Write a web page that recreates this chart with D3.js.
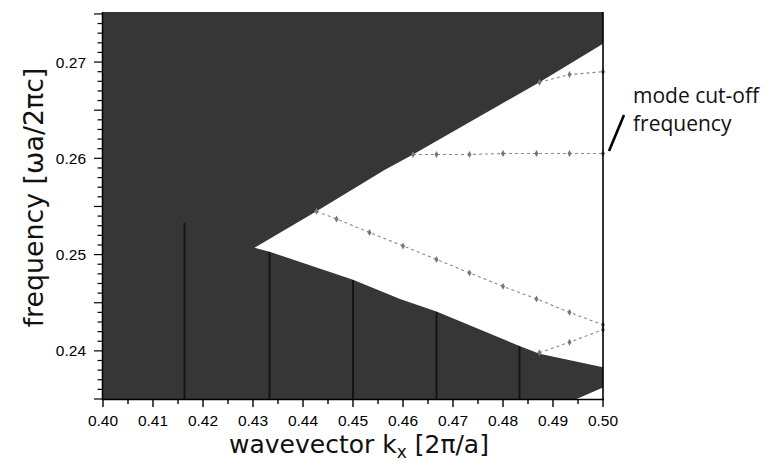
<!DOCTYPE html>
<html>
<head>
<meta charset="utf-8">
<script src="https://cdn.jsdelivr.net/npm/d3@7/dist/d3.min.js"></script>
<style>
  html, body { margin: 0; padding: 0; background: #fff; }
  svg { display: block; }
</style>
</head>
<body>
<svg id="chart" width="776" height="474"></svg>
<script>
// ---- data ----
const xDomain = [0.40, 0.50];
const yDomain = [0.235, 0.2752];
const xTickLabels = ["0.40","0.41","0.42","0.43","0.44","0.45","0.46","0.47","0.48","0.49","0.50"];
const yTickLabels = ["0.24","0.25","0.26","0.27"];

// edges of the (white) band-gap wedge
const upperEdgeK = [0.4303, 0.4427, 0.4563, 0.462, 0.4873, 0.5];
const upperEdgeF = [0.2507, 0.2545, 0.2588, 0.2604, 0.2679, 0.2719];
const lowerEdgeK = [0.4303, 0.4333, 0.45, 0.4594, 0.4667, 0.4833, 0.4873, 0.5];
const lowerEdgeF = [0.2507, 0.2503, 0.2474, 0.2454, 0.2441, 0.2405, 0.2397, 0.2383];
// small white corner at the bottom right
const cornerK = [0.4947, 0.5, 0.5];
const cornerF = [0.235, 0.2362, 0.235];

// defect modes (dotted lines)
const modeAK = [0.4427, 0.4467, 0.4533, 0.46, 0.4667, 0.4733, 0.48, 0.4867, 0.4933, 0.5];
const modeAF = [0.2545, 0.2537, 0.2523, 0.2509, 0.2495, 0.2481, 0.2467, 0.2454, 0.2440, 0.2427];
const modeBK = [0.462, 0.4667, 0.4733, 0.48, 0.4867, 0.4933, 0.5];
const modeBF = [0.2604, 0.2604, 0.2604, 0.2605, 0.2605, 0.2605, 0.2605];
const modeCK = [0.4873, 0.4933, 0.5];
const modeCF = [0.2679, 0.2687, 0.2690];
const modeDK = [0.4873, 0.4933, 0.5];
const modeDF = [0.2398, 0.2409, 0.2422];

// dark vertical streaks in the projected band region
const streakK   = [0.4163, 0.4333, 0.45, 0.4667, 0.4833];
const streakTop = [0.2533, 0.2503, 0.2474, 0.2441, 0.2405];

// ---- drawing ----
const svg = d3.select("#chart");
const x = d3.scaleLinear().domain(xDomain).range([103, 603]);
const y = d3.scaleLinear().domain(yDomain).range([399, 12]);

const zip = (ks, fs) => ks.map((k, i) => [k, fs[i]]);
const line = d3.line().x(d => x(d[0])).y(d => y(d[1]));

// dark projected-band area
svg.append("rect")
  .attr("x", x(xDomain[0])).attr("y", y(yDomain[1]))
  .attr("width", x(xDomain[1]) - x(xDomain[0]))
  .attr("height", y(yDomain[0]) - y(yDomain[1]))
  .attr("fill", "#363636");

// streaks
svg.append("g").selectAll("line").data(streakK).join("line")
  .attr("x1", d => x(d)).attr("x2", d => x(d))
  .attr("y1", (d, i) => y(streakTop[i])).attr("y2", y(yDomain[0]))
  .attr("stroke", "#141414").attr("stroke-width", 2);

// white wedge
const wedge = zip(upperEdgeK, upperEdgeF).concat(zip(lowerEdgeK, lowerEdgeF).reverse());
svg.append("path").attr("d", line(wedge) + "Z").attr("fill", "#fff");
svg.append("path").attr("d", line(zip(cornerK, cornerF)) + "Z").attr("fill", "#fff");

// modes
const modes = [zip(modeAK, modeAF), zip(modeBK, modeBF), zip(modeCK, modeCF), zip(modeDK, modeDF)];
const gm = svg.append("g");
modes.forEach(m => {
  gm.append("path").attr("d", line(m)).attr("fill", "none")
    .attr("stroke", "#8a8a8a").attr("stroke-width", 1.1).attr("stroke-dasharray", "3,3");
  gm.selectAll(null).data(m).join("path")
    .attr("transform", d => `translate(${x(d[0])},${y(d[1])})`)
    .attr("d", d3.symbol(d3.symbolDiamond, 14)())
    .attr("fill", "#777");
});

// frame line at the zone edge
svg.append("line").attr("x1", x(0.5)).attr("x2", x(0.5)).attr("y1", y(yDomain[1])).attr("y2", y(yDomain[0]) + 1)
  .attr("stroke", "#000").attr("stroke-width", 1.6);

// x axis
const tickFont = "'Liberation Sans', Arial, sans-serif";
const gx = svg.append("g");
gx.append("line").attr("x1", x(0.40) - 1).attr("x2", x(0.50) + 1).attr("y1", 399.5).attr("y2", 399.5)
  .attr("stroke", "#000").attr("stroke-width", 1.5);
const xMinor = d3.range(0, 21).map(i => 0.40 + i * 0.005);
gx.selectAll("line.t").data(xMinor).join("line").attr("class", "t")
  .attr("x1", d => x(d)).attr("x2", d => x(d))
  .attr("y1", 399.5).attr("y2", (d, i) => i % 2 === 0 ? 407 : 404)
  .attr("stroke", "#000").attr("stroke-width", 1.4);
gx.selectAll("text").data(xTickLabels).join("text")
  .attr("x", d => x(+d)).attr("y", 426)
  .attr("text-anchor", "middle")
  .attr("font-family", tickFont).attr("font-size", 15.5)
  .text(d => d);

// y axis
const gy = svg.append("g");
gy.append("line").attr("x1", 102.5).attr("x2", 102.5).attr("y1", y(yDomain[1])).attr("y2", 400)
  .attr("stroke", "#000").attr("stroke-width", 1.5);
const yMinor = d3.range(0, 41).map(i => 0.235 + i * 0.001).filter(v => v <= yDomain[1]);
gy.selectAll("line.t").data(yMinor).join("line").attr("class", "t")
  .attr("x1", (d, i) => i % 5 === 0 ? 94 : 97.5).attr("x2", 102.5)
  .attr("y1", d => y(d)).attr("y2", d => y(d))
  .attr("stroke", "#000").attr("stroke-width", 1.2);
gy.selectAll("text").data(yTickLabels).join("text")
  .attr("x", 86).attr("y", d => y(+d) + 5.5)
  .attr("text-anchor", "end")
  .attr("font-family", tickFont).attr("font-size", 15.5)
  .text(d => d);

// axis titles
const titleFont = "'DejaVu Sans', 'Open Sans', sans-serif";
const xt = svg.append("text").attr("x", 359).attr("y", 453).attr("text-anchor", "middle")
  .attr("font-family", titleFont).attr("font-size", 25).attr("fill", "#111");
xt.append("tspan").text("wavevector k");
xt.append("tspan").attr("font-size", 17).attr("dy", 5).text("x");
xt.append("tspan").attr("dy", -5).text(" [2π/a]");

svg.append("text").attr("transform", "translate(43,197.5) rotate(-90)")
  .attr("text-anchor", "middle").attr("font-family", titleFont).attr("font-size", 26.8).attr("fill", "#111")
  .text("frequency [ωa/2πc]");

// annotation
const ann = svg.append("g").attr("font-family", "'Open Sans', sans-serif").attr("font-size", 21).attr("fill", "#111");
ann.append("text").attr("x", 633).attr("y", 103).text("mode cut-off");
ann.append("text").attr("x", 633).attr("y", 131).text("frequency");
svg.append("line").attr("x1", 609).attr("y1", 151).attr("x2", 624).attr("y2", 115)
  .attr("stroke", "#000").attr("stroke-width", 2.6);
</script>
</body>
</html>
